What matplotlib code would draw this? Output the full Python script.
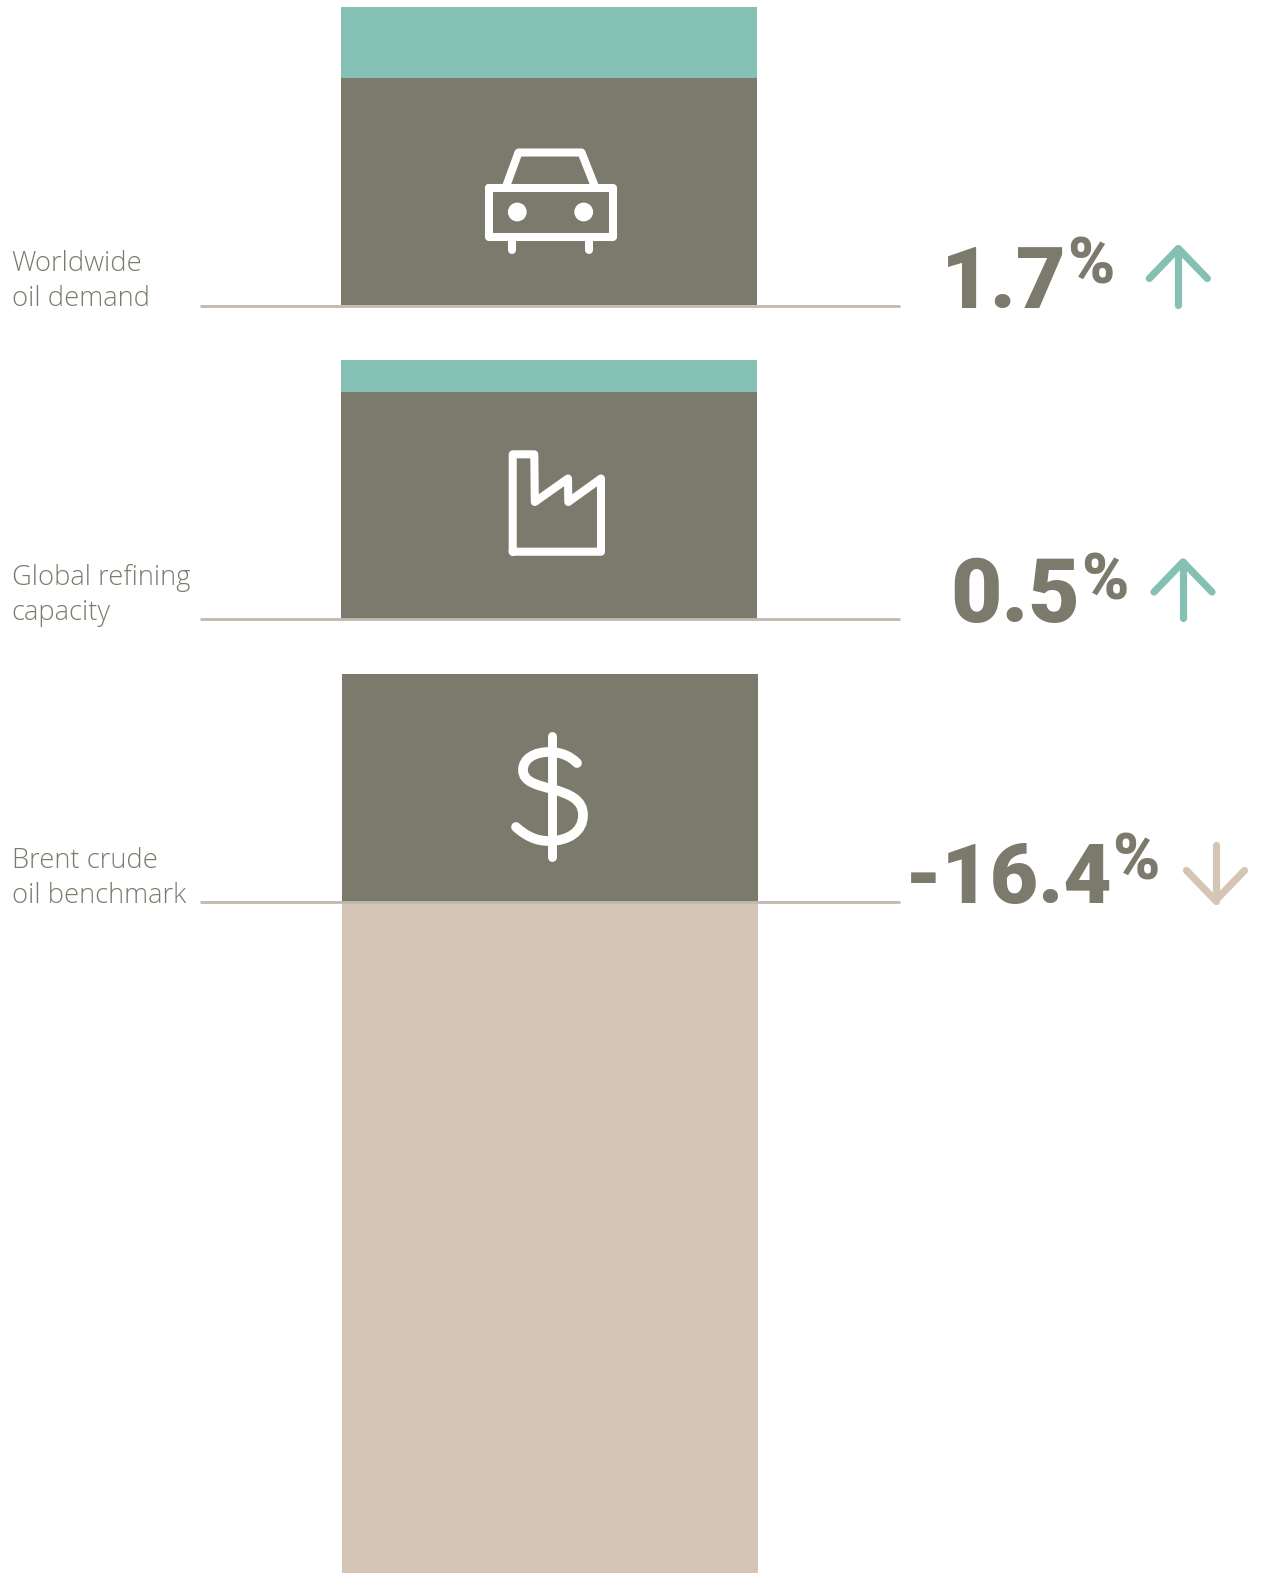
import numpy as np
import matplotlib
matplotlib.use('Agg')
import matplotlib.pyplot as plt
from matplotlib.patches import Circle, PathPatch
from matplotlib.path import Path

W, H = 1261, 1573

labels = ['Worldwide\noil demand', 'Global refining\ncapacity', 'Brent crude\noil benchmark']
changes = ['1.7', '0.5', '-16.4']
# bar parts in pixels
grey_heights = [227, 227, 228]
change_heights = [71, 32, -671]

TEAL = '#85c0b4'
GREY = '#7c7a6c'
TAN = '#d4c5b5'
RULE = '#c2b9ae'
WHITE = '#ffffff'

baselines = [305, 619, 902]
rule_ys = [306.3, 619.3, 902.3]
bar_lefts = [341, 341, 342]
BAR_W = 416


def stroke(ax, xs, ys, color=WHITE, lw=5.8, closed=False):
    if closed:
        xs = list(xs) + [xs[0]]
        ys = list(ys) + [ys[0]]
    ax.plot(xs, ys, color=color, lw=lw, solid_capstyle='round', solid_joinstyle='round', zorder=5)


def arrow(ax, x, tip, wing, end, color):
    stroke(ax, [x - 29, x, x + 29], [wing, tip, wing], color, 5.2)
    stroke(ax, [x, x], [tip, end], color, 5.2)


def car(ax):
    stroke(ax, [488.7, 612.7, 612.7, 488.7], [188, 188, 237, 237], closed=True)
    stroke(ax, [505.5, 518.5, 581.5, 595.5], [188, 152.5, 152.5, 188])
    stroke(ax, [511.7, 511.7], [237, 250])
    stroke(ax, [589.3, 589.3], [237, 250])
    ax.add_patch(Circle((517.3, 212), 8.7, color=WHITE, zorder=5))
    ax.add_patch(Circle((583.7, 212), 8.7, color=WHITE, zorder=5))


def factory(ax):
    xs = [512.7, 512.7, 534.3, 534.8, 568, 568.3, 601, 601]
    ys = [551.7, 454.3, 454.3, 502, 478.5, 502, 478.5, 551.7]
    stroke(ax, xs, ys, closed=True)


def dollar(ax):
    stroke(ax, [551.7, 551.7], [736, 857], lw=6.4)
    verts = [(577, 763), (570, 756), (561, 752), (549, 752),
             (534, 752), (523, 759), (523, 770),
             (523, 782), (537, 785), (552, 789),
             (570, 794), (583, 800), (583, 815),
             (583, 832), (568, 841), (549, 841),
             (536, 841), (526, 836), (516, 827)]
    codes = [Path.MOVETO] + [Path.CURVE4] * 18
    ax.add_patch(PathPatch(Path(verts, codes), fc='none', ec=WHITE, lw=7,
                           capstyle='round', zorder=5))


fig = plt.figure(figsize=(W / 100, H / 100), dpi=100)
ax = fig.add_axes([0, 0, 1, 1])
ax.set_xlim(0, W)
ax.set_ylim(H, 0)
ax.axis('off')

for i in range(3):
    base = baselines[i]
    ax.bar(bar_lefts[i], -grey_heights[i], width=BAR_W, bottom=base, align='edge', color=GREY, zorder=2)
    if change_heights[i] > 0:
        ax.bar(bar_lefts[i], -change_heights[i], width=BAR_W, bottom=base - grey_heights[i],
               align='edge', color=TEAL, zorder=2)
    else:
        ax.bar(bar_lefts[i], -change_heights[i], width=BAR_W, bottom=base, align='edge', color=TAN, zorder=2)
    ax.plot([200, 900], [rule_ys[i], rule_ys[i]], color=RULE, lw=2, zorder=3, solid_capstyle='butt')
    ax.text(11.5, base + 1, labels[i], color=GREY, fontsize=19.7, family='Open Sans', fontweight='light',
            va='baseline', ha='left', linespacing=1.34)

num_font = dict(color=GREY, family='Roboto', fontweight='black')
ax.text(941, 308, changes[0], fontsize=62, va='baseline', ha='left', **num_font)
ax.text(1067, 283, '%', fontsize=46, va='baseline', ha='left', **num_font)
ax.text(950, 622, changes[1], fontsize=64, va='baseline', ha='left', **num_font)
ax.text(1081, 599, '%', fontsize=46, va='baseline', ha='left', **num_font)
ax.text(905, 903, changes[2], fontsize=60, va='baseline', ha='left', **num_font)
ax.text(1112, 879, '%', fontsize=46, va='baseline', ha='left', **num_font)

arrow(ax, 1178.3, 248.5, 278.5, 304.5, TEAL)
arrow(ax, 1183, 562, 592, 618, TEAL)
arrow(ax, 1215.5, 900.5, 870.5, 845, TAN)

car(ax)
factory(ax)
dollar(ax)

fig.savefig('out.png', dpi=100, facecolor='white')
